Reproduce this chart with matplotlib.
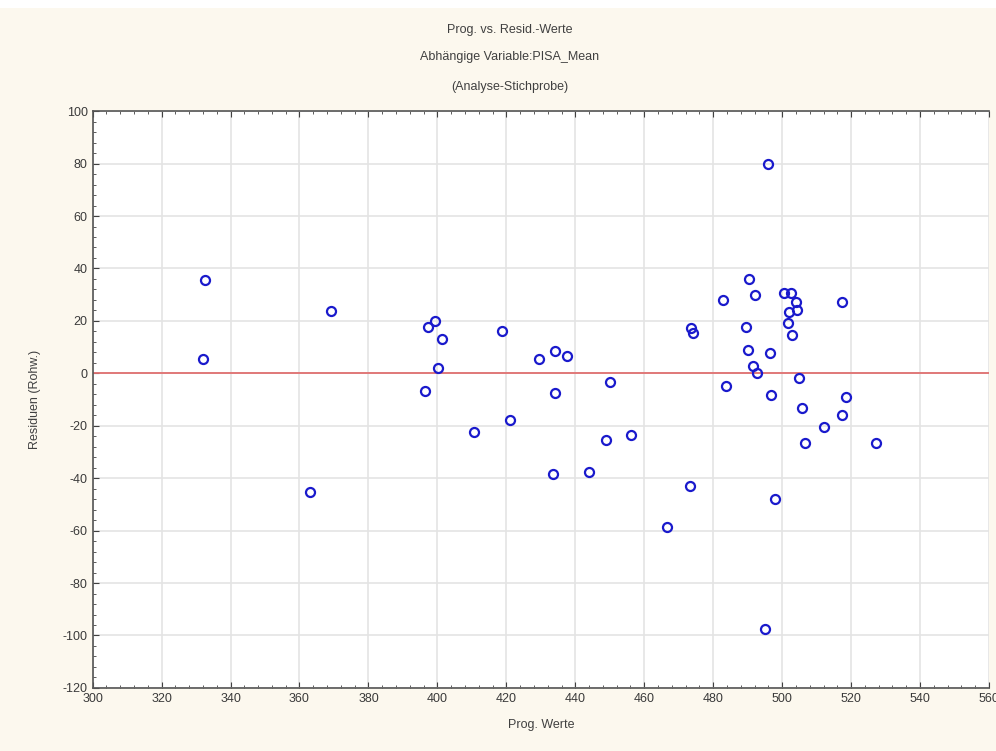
import matplotlib.pyplot as plt
from matplotlib.ticker import MultipleLocator, AutoMinorLocator
from matplotlib.patches import Rectangle

plt.rcParams['font.family'] = ['Liberation Sans', 'DejaVu Sans']
plt.rcParams['axes.unicode_minus'] = False

# Prognostizierte Werte und Residuen
prog = [332.7, 332.1, 369.2, 399.4, 397.2, 401.2, 400.1, 396.4, 418.6, 429.6,
        434.0, 437.6, 434.1, 410.6, 421.2, 450.0, 448.9, 456.2, 433.5, 444.0,
        363.0, 496.0, 490.3, 492.2, 482.9, 500.4, 502.6, 503.9, 504.4, 501.9,
        501.6, 502.9, 517.3, 489.4, 490.0, 496.5, 491.6, 492.6, 473.6, 474.2,
        483.8, 504.9, 496.9, 505.7, 518.4, 517.3, 512.0, 506.5, 527.1, 473.2,
        466.6, 498.0, 495.0]
resid = [35.6, 5.3, 23.7, 19.8, 17.5, 13.1, 2.1, -6.6, 16.0, 5.3,
         8.4, 6.6, -7.4, -22.4, -17.9, -3.3, -25.3, -23.6, -38.3, -37.5,
         -45.3, 79.7, 36.1, 29.9, 27.8, 30.6, 30.6, 27.1, 24.1, 23.4,
         19.3, 14.7, 27.1, 17.5, 9.0, 7.9, 2.9, 0.0, 17.4, 15.2,
         -4.8, -1.9, -8.1, -13.3, -8.9, -15.9, -20.3, -26.5, -26.5, -42.9,
         -58.7, -47.9, -97.6]

fig = plt.figure(figsize=(9.96, 7.51), dpi=100)
fig.patch.set_facecolor('#fcf8ee')
fig.add_artist(Rectangle((0, 0.99), 1, 0.01, transform=fig.transFigure,
                         facecolor='white', edgecolor='none'))

ax = fig.add_axes([0.093, 0.084, 0.90, 0.768])
ax.set_facecolor('white')

ax.axhline(0, color='#e07070', lw=1.3, zorder=2)
ax.plot(prog, resid, 'o', mfc='none', mec='#1a1acc', mew=1.6, ms=6.5, zorder=3)

ax.set_xlim(300, 560)
ax.set_ylim(-120, 100)
ax.xaxis.set_major_locator(MultipleLocator(20))
ax.yaxis.set_major_locator(MultipleLocator(20))
ax.xaxis.set_minor_locator(AutoMinorLocator(5))
ax.yaxis.set_minor_locator(AutoMinorLocator(5))
ax.grid(True, which='major', color='#e4e4e4', lw=1.2, zorder=0)
ax.set_axisbelow(True)

ax.tick_params(which='both', direction='in', top=True, right=False,
               colors='#404040', labelsize=9, labelcolor='#3a3a3a')
ax.tick_params(which='major', length=4)
ax.tick_params(which='minor', length=2)
for side in ['left', 'bottom', 'top']:
    ax.spines[side].set_color('#555555')
    ax.spines[side].set_linewidth(1.2)
ax.spines['right'].set_visible(False)

ax.set_xlabel('Prog. Werte', fontsize=9, color='#404040', labelpad=10)
ax.set_ylabel('Residuen (Rohw.)', fontsize=9, color='#404040', labelpad=16)

fig.text(0.512, 0.960, 'Prog. vs. Resid.-Werte', ha='center', va='center',
         fontsize=9, color='#404040')
fig.text(0.512, 0.924, 'Abhängige Variable:PISA_Mean', ha='center', va='center',
         fontsize=9, color='#404040')
fig.text(0.512, 0.884, '(Analyse-Stichprobe)', ha='center', va='center',
         fontsize=9, color='#404040')

fig.savefig('out.png', dpi=100, facecolor=fig.get_facecolor())
